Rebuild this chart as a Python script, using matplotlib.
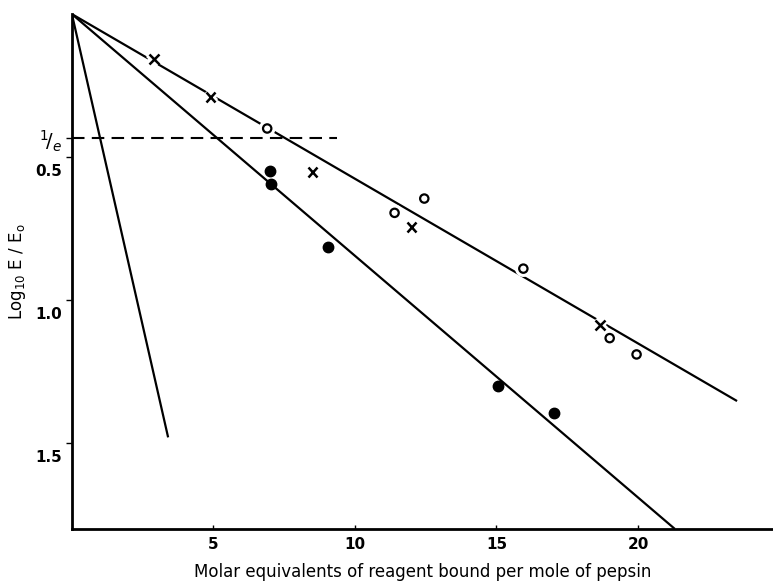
import numpy as np
import matplotlib
matplotlib.use("Agg")
import matplotlib.pyplot as plt
import matplotlib.patheffects as pe
from matplotlib.transforms import ScaledTranslation

# open circles
open_x = [6.9, 11.4, 12.45, 15.95, 19.0, 19.95]
open_y = [0.40, 0.695, 0.645, 0.89, 1.133, 1.19]
# crosses
cross_x = [2.9, 4.9, 8.5, 12.0, 18.65]
cross_y = [0.157, 0.29, 0.552, 0.745, 1.087]
# filled circles
fill_x = [7.0, 7.05, 9.05, 15.05, 17.05]
fill_y = [0.549, 0.594, 0.815, 1.30, 1.395]

# fitted straight lines, all from the origin: (x end, y end)
line_steep = ([0, 3.4], [0, 1.48])
line_mid = ([0, 21.3], [0, 1.80])
line_upper = ([0, 23.5], [0, 1.353])

inv_e = np.log10(np.e)
dash_end = 9.35

yticks = [0.5, 1.0, 1.5]
yticklabels = ["0.5", "1.0", "1.5"]
xticks = [5, 10, 15, 20]

fig = plt.figure(figsize=(7.73, 5.87), dpi=100)
ax = fig.add_axes([0.093, 0.099, 0.907, 0.877])

k = dict(color="black", lw=1.6, solid_capstyle="butt")
ax.plot(*line_steep, **k)
ax.plot(*line_mid, **k)
ax.plot(*line_upper, **k)
ax.plot([0, dash_end], [inv_e, inv_e], color="black", lw=1.5, ls=(0, (6, 3.5)))

halo = [pe.Stroke(linewidth=6, foreground="white"), pe.Normal()]
ax.plot(open_x, open_y, "o", ms=6, mfc="white", mec="black", mew=1.6,
        path_effects=halo, zorder=3)
ax.plot(cross_x, cross_y, "x", ms=7, mec="black", mew=1.8,
        path_effects=halo, zorder=3)
ax.plot(fill_x, fill_y, "o", ms=7.5, color="black", zorder=3)

ax.set_xlim(0, 24.77)
ax.set_ylim(1.80, 0)

for s in ["top", "right"]:
    ax.spines[s].set_visible(False)
for s in ["left", "bottom"]:
    ax.spines[s].set_linewidth(2)

ax.set_xticks(xticks)
ax.set_xticklabels([str(v) for v in xticks], fontsize=11, fontweight="bold")
ax.tick_params(axis="x", length=3, width=1, direction="in", pad=6)

ax.set_yticks(yticks + [inv_e])
ax.set_yticklabels(yticklabels + [r"$^{1}\!/_{e}$"], fontsize=11, fontweight="bold")
ax.tick_params(axis="y", length=4, width=1, direction="out", pad=3)
off = ScaledTranslation(0, -0.13, fig.dpi_scale_trans)
for lab in ax.get_yticklabels()[:3]:
    lab.set_transform(lab.get_transform() + off)
ax.get_yticklabels()[3].set_fontsize(14)

ax.set_xlabel("Molar equivalents of reagent bound per mole of pepsin",
              fontsize=12, labelpad=8)
ax.set_ylabel(r"Log$_{10}$ E / E$_{\rm o}$", fontsize=12)
ax.yaxis.set_label_coords(-0.062, 0.5)

fig.savefig("out.png", dpi=100)
